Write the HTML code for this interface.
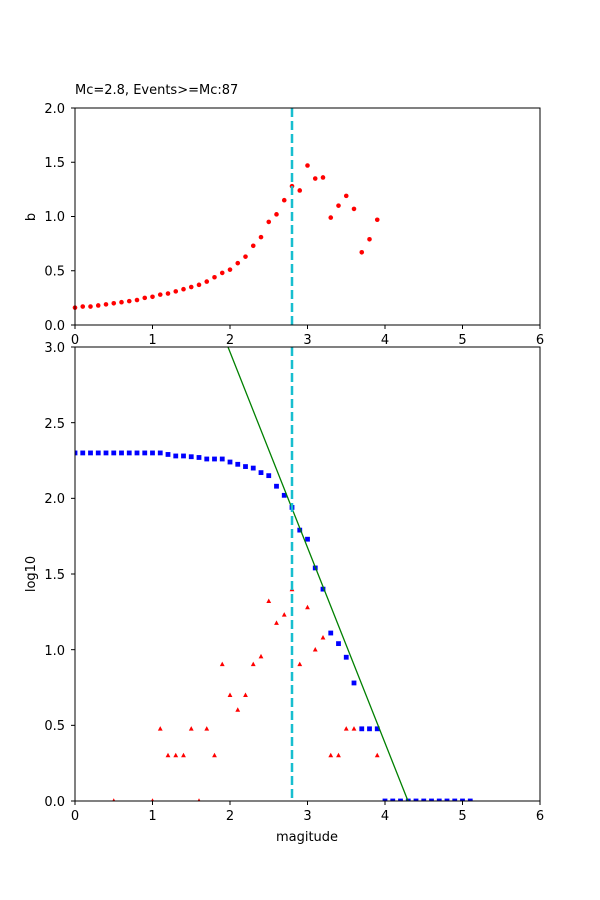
<!DOCTYPE html>
<html><head><meta charset="utf-8"><style>body{margin:0;background:#fff}svg{display:block}text{font-family:"DejaVu Sans","Liberation Sans",sans-serif;font-size:13px;fill:#000}</style></head>
<body>
<svg id="s" width="600" height="900" xmlns="http://www.w3.org/2000/svg">
<rect width="600" height="900" fill="#fff"/>
<text x="75" y="94">Mc=2.8, Events&gt;=Mc:87</text>
<g id="g"></g>
<text x="307" y="841" text-anchor="middle">magitude</text>
<text transform="translate(35,217) rotate(-90)" text-anchor="middle">b</text>
<text transform="translate(35,574) rotate(-90)" text-anchor="middle">log10</text>
<text x="75" y="344" text-anchor="middle">0</text><text x="152.5" y="344" text-anchor="middle">1</text><text x="230" y="344" text-anchor="middle">2</text><text x="307.5" y="344" text-anchor="middle">3</text><text x="385" y="344" text-anchor="middle">4</text><text x="462.5" y="344" text-anchor="middle">5</text><text x="540" y="344" text-anchor="middle">6</text>
<text x="75" y="820" text-anchor="middle">0</text><text x="152.5" y="820" text-anchor="middle">1</text><text x="230" y="820" text-anchor="middle">2</text><text x="307.5" y="820" text-anchor="middle">3</text><text x="385" y="820" text-anchor="middle">4</text><text x="462.5" y="820" text-anchor="middle">5</text><text x="540" y="820" text-anchor="middle">6</text>
<text x="65" y="330" text-anchor="end">0.0</text><text x="65" y="275.5" text-anchor="end">0.5</text><text x="65" y="221" text-anchor="end">1.0</text><text x="65" y="167" text-anchor="end">1.5</text><text x="65" y="113" text-anchor="end">2.0</text>
<text x="65" y="806" text-anchor="end">0.0</text><text x="65" y="730" text-anchor="end">0.5</text><text x="65" y="655" text-anchor="end">1.0</text><text x="65" y="579" text-anchor="end">1.5</text><text x="65" y="503" text-anchor="end">2.0</text><text x="65" y="428" text-anchor="end">2.5</text><text x="65" y="352" text-anchor="end">3.0</text>
</svg>
<script>
var g=document.getElementById('g'),h='';
function X(m){return 75+77.5*m}
function T(v){return 325-108.5*v}
function B(v){return 801-151.33*v}
var b=[.16,.17,.17,.18,.19,.20,.21,.22,.23,.25,.26,.28,.29,.31,.33,.35,.37,.40,.44,.48,.51,.57,.63,.73,.81,.95,1.02,1.15,1.28,1.24,1.47,1.35,1.36,.99,1.10,1.19,1.07,.67,.79,.97];
b.forEach(function(v,i){h+='<circle cx="'+X(i/10)+'" cy="'+T(v)+'" r="2.3" fill="red"/>'});
var c=[];for(var i=0;i<=11;i++)c.push(2.30);
c=c.concat([2.29,2.28,2.28,2.275,2.27,2.26,2.26,2.26,2.24,2.225,2.21,2.20,2.17,2.15,2.08,2.02,1.94,1.79,1.73,1.54,1.40,1.11,1.04,.95,.78,.477,.477,.477]);
for(i=40;i<=51;i++)c.push(0);
var r=[[.5,0],[1,0],[1.1,.477],[1.2,.301],[1.3,.301],[1.4,.301],[1.5,.477],[1.6,0],[1.7,.477],[1.8,.301],[1.9,.903],[2,.699],[2.1,.602],[2.2,.699],[2.3,.903],[2.4,.954],[2.5,1.32],[2.6,1.176],[2.7,1.23],[2.8,1.398],[2.9,.903],[3,1.279],[3.1,1],[3.2,1.079],[3.3,.301],[3.4,.301],[3.5,.477],[3.6,.477],[3.9,.301]];
h+='<svg x="75" y="347" width="465" height="454" overflow="hidden"><g transform="translate(-75,-347)">';
r.forEach(function(p){var x=X(p[0]),y=B(p[1]);h+='<polygon points="'+x+','+(y-2.7)+' '+(x-2.4)+','+(y+1.8)+' '+(x+2.4)+','+(y+1.8)+'" fill="red"/>'});
c.forEach(function(v,i){h+='<rect x="'+(X(i/10)-2.4)+'" y="'+(B(v)-2.4)+'" width="4.8" height="4.8" fill="blue"/>'});
h+='<line x1="228" y1="347" x2="408" y2="801" stroke="green" stroke-width="1.3"/></g></svg>';
h+='<line x1="292" y1="108" x2="292" y2="325" stroke="#17becf" stroke-width="2.5" stroke-dasharray="9,4"/>';
h+='<line x1="292" y1="347" x2="292" y2="801" stroke="#17becf" stroke-width="2.5" stroke-dasharray="9,4"/>';
h+='<rect x="75" y="108" width="465" height="217" fill="none" stroke="#000" stroke-width="1"/>';
h+='<rect x="75" y="347" width="465" height="454" fill="none" stroke="#000" stroke-width="1"/>';
for(i=0;i<=6;i++){var x=X(i);h+='<line x1="'+x+'" y1="325" x2="'+x+'" y2="329" stroke="#000"/><line x1="'+x+'" y1="801" x2="'+x+'" y2="805" stroke="#000"/>'}
for(i=0;i<=4;i++){var y=T(i*.5);h+='<line x1="71" y1="'+y+'" x2="75" y2="'+y+'" stroke="#000"/>'}
for(i=0;i<=6;i++){var y=B(i*.5);h+='<line x1="71" y1="'+y+'" x2="75" y2="'+y+'" stroke="#000"/>'}
g.innerHTML=h;
</script>
</body></html>
